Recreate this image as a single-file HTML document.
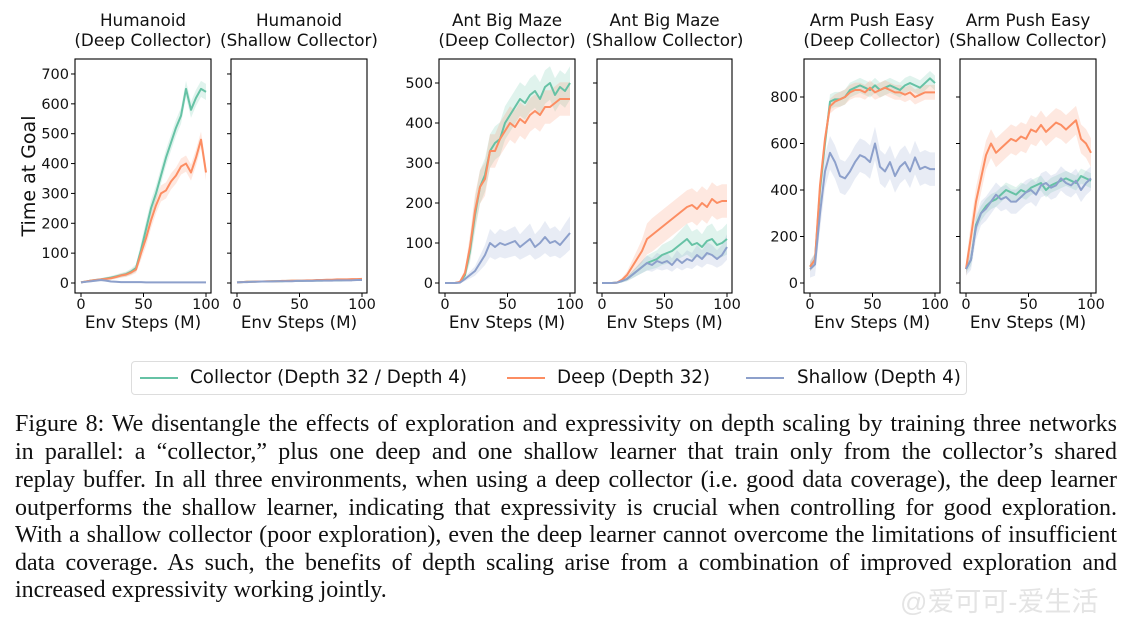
<!DOCTYPE html>
<html><head><meta charset="utf-8">
<style>
body{margin:0;background:#fff;width:1134px;height:616px;overflow:hidden;position:relative}
svg{position:absolute;left:0;top:0}
.cap{position:absolute;left:15px;width:1102px;font-family:"Liberation Serif",serif;font-size:24px;line-height:27.7px;color:#111;text-align:justify;text-align-last:justify;white-space:nowrap}
.cap.last{text-align-last:left}
.legend{position:absolute;left:131px;top:361px;width:836px;height:34px;border:1px solid #ddd;border-radius:4px;box-sizing:border-box;font-family:"DejaVu Sans",sans-serif;font-size:18.3px;color:#111}
.le{position:absolute;top:4px;line-height:24px}
.ll{position:absolute;top:15px;height:1.5px;width:38px}
.wm{position:absolute;left:900px;top:580px;font-family:"Liberation Sans","Noto Sans CJK SC",sans-serif;font-size:27px;color:#e4e4e4}
</style></head><body>
<svg id="chart" width="1134" height="350" viewBox="0 0 1134 350"></svg>
<div class="legend">
 <div class="ll" style="left:8px;background:#66c2a5"></div>
 <div class="le" style="left:58px">Collector (Depth 32 / Depth 4)</div>
 <div class="ll" style="left:375px;background:#fc8d62"></div>
 <div class="le" style="left:425px">Deep (Depth 32)</div>
 <div class="ll" style="left:614px;background:#8da0cb"></div>
 <div class="le" style="left:665px">Shallow (Depth 4)</div>
</div>
<div>
<div class="cap" style="top:411px">Figure 8: We disentangle the effects of exploration and expressivity on depth scaling by training three networks</div>
<div class="cap" style="top:439px">in parallel: a “collector,” plus one deep and one shallow learner that train only from the collector’s shared</div>
<div class="cap" style="top:467px">replay buffer. In all three environments, when using a deep collector (i.e. good data coverage), the deep learner</div>
<div class="cap" style="top:495px">outperforms the shallow learner, indicating that expressivity is crucial when controlling for good exploration.</div>
<div class="cap" style="top:522px">With a shallow collector (poor exploration), even the deep learner cannot overcome the limitations of insufficient</div>
<div class="cap" style="top:550px">data coverage. As such, the benefits of depth scaling arise from a combination of improved exploration and</div>
<div class="cap last" style="top:577px">increased expressivity working jointly.</div>
</div>
<div class="wm">@爱可可-爱生活</div>
<script>
const steps=[0,4,8,12,16,20,24,28,32,36,40,44,48,52,56,60,64,68,72,76,80,84,88,92,96,100];
const xTicks=[0,50,100];
const titles1=["Humanoid","Humanoid","Ant Big Maze","Ant Big Maze","Arm Push Easy","Arm Push Easy"];
const titles2=["(Deep Collector)","(Shallow Collector)","(Deep Collector)","(Shallow Collector)","(Deep Collector)","(Shallow Collector)"];
const yTicksHum=[0,100,200,300,400,500,600,700];
const yTicksAnt=[0,100,200,300,400,500];
const yTicksArm=[0,200,400,600,800];
// Humanoid deep collector
const humDeepCollector=[2,5,8,10,12,15,18,22,26,30,38,50,110,180,250,300,360,420,470,520,560,650,580,620,650,640];
const humDeepDeep=[2,5,8,10,12,14,16,20,25,28,35,45,100,150,210,260,300,310,340,360,390,400,370,420,480,370];
const humDeepShallow=[2,4,6,8,10,8,5,4,3,3,3,3,3,2,2,2,2,2,2,2,2,2,2,2,2,2];
// Humanoid shallow collector
const humShCollector=[2,3,4,4,5,5,5,6,6,6,7,7,7,7,8,8,8,8,9,9,9,9,10,10,10,10];
const humShDeep=[2,3,4,4,5,5,6,6,6,7,7,8,8,8,9,9,10,10,11,11,12,12,12,13,13,14];
const humShShallow=[2,3,3,4,4,5,5,5,6,6,6,6,7,7,7,7,8,8,8,8,9,9,9,9,10,10];
// Ant deep collector
const antDeepCollector=[0,0,0,2,20,80,170,240,270,330,350,360,400,420,440,460,450,470,480,460,490,500,470,490,480,500];
const antDeepDeep=[0,0,0,3,25,90,180,240,260,330,330,360,380,400,390,410,400,420,430,420,440,440,450,460,460,460];
const antDeepShallow=[0,0,0,1,10,20,30,50,70,100,90,100,95,100,105,90,100,110,90,100,115,100,105,95,110,125];
// Ant shallow collector
const antShCollector=[0,0,0,1,5,10,20,30,40,50,55,60,70,75,80,90,100,110,95,100,90,105,110,95,100,110];
const antShDeep=[0,0,0,1,8,20,40,60,80,110,120,130,140,150,160,170,180,190,195,185,200,190,210,200,205,205];
const antShShallow=[0,0,0,1,5,10,20,30,40,50,45,55,50,55,45,60,50,60,55,70,60,75,70,60,70,90];
// Arm deep collector
const armDeepCollector=[70,100,400,600,780,790,790,800,830,840,850,840,830,850,830,840,850,840,830,850,860,850,840,860,880,860];
const armDeepDeep=[70,100,420,620,760,780,790,800,820,830,830,820,840,820,830,840,830,820,820,810,820,800,810,820,820,820];
const armDeepShallow=[60,80,300,480,560,520,460,450,480,520,550,540,520,600,500,480,520,460,500,520,480,540,490,500,490,490];
// Arm shallow collector
const armShCollector=[60,100,250,300,330,350,360,380,400,390,380,400,390,410,420,430,400,420,430,440,450,440,430,460,450,440];
const armShDeep=[60,200,350,450,550,600,560,580,600,620,610,630,620,660,650,680,650,670,690,680,660,680,700,620,600,560];
const armShShallow=[60,100,240,300,320,350,380,360,370,350,350,370,390,400,380,420,430,410,420,450,430,420,440,400,430,450];
const bandHum=[25,25,25];
const bandAnt=[40,40,40];
const bandArm=[30,30,70];

const C=["#66c2a5","#fc8d62","#8da0cb"];
const NS="http://www.w3.org/2000/svg";
const svg=document.getElementById('chart');
function mk(tag,attrs,parent){const e=document.createElementNS(NS,tag);for(const k in attrs)e.setAttribute(k,attrs[k]);(parent||svg).appendChild(e);return e;}
const panels=[
 {bl:75,br:211,x0:81,x1:206,ppu:0.2986,ticks:yTicksHum,labels:true,series:[humDeepCollector,humDeepDeep,humDeepShallow],band:bandHum},
 {bl:231,br:367,x0:237,x1:362,ppu:0.2986,ticks:yTicksHum,labels:false,series:[humShCollector,humShDeep,humShShallow],band:[4,4,4]},
 {bl:439,br:575,x0:445,x1:570,ppu:0.4,ticks:yTicksAnt,labels:true,series:[antDeepCollector,antDeepDeep,antDeepShallow],band:bandAnt},
 {bl:597,br:732,x0:602,x1:727,ppu:0.4,ticks:yTicksAnt,labels:false,series:[antShCollector,antShDeep,antShShallow],band:bandAnt},
 {bl:804,br:940,x0:810,x1:935,ppu:0.2325,ticks:yTicksArm,labels:true,series:[armDeepCollector,armDeepDeep,armDeepShallow],band:bandArm},
 {bl:960,br:1096,x0:966,x1:1091,ppu:0.2325,ticks:yTicksArm,labels:false,series:[armShCollector,armShDeep,armShShallow],band:[30,60,50]}
];
const names=["collector","deep","shallow"];
const BT=59,BB=293,Y0=283;
panels.forEach((p,i)=>{
 const g=mk('g',{});
 
 
 const px=x=>p.x0+x/100*(p.x1-p.x0);
 const py=v=>Y0-v*p.ppu;
 const cx=(p.bl+p.br)/2;
 const t1=mk('text',{x:cx,y:26,'text-anchor':'middle','font-family':'DejaVu Sans, sans-serif','font-size':16.8,fill:'#111'},g);t1.textContent=titles1[i];
 
 
 const t2=mk('text',{x:cx,y:46,'text-anchor':'middle','font-family':'DejaVu Sans, sans-serif','font-size':16.8,fill:'#111'},g);t2.textContent=titles2[i];
 
 
 p.series.forEach((s,k)=>{
  const bw=j=>2+p.band[k]*Math.min(1,Math.abs(s[j])/120);
  let d='';steps.forEach((x,j)=>{d+=(j?'L':'M')+px(x)+','+py(s[j]+bw(j));});
  for(let j=steps.length-1;j>=0;j--)d+='L'+px(steps[j])+','+py(s[j]-bw(j));
  const e=mk('path',{d:d+'Z',fill:C[k],'fill-opacity':0.2,stroke:'none'},g);
  
  
 });
 p.series.forEach((s,k)=>{
  const pts=steps.map((x,j)=>px(x)+','+py(s[j])).join(' ');
  const e=mk('polyline',{points:pts,fill:'none',stroke:C[k],'stroke-width':2,'stroke-linejoin':'round'},g);
  
  
 });
 const box=mk('rect',{x:p.bl,y:BT,width:p.br-p.bl,height:BB-BT,fill:'none',stroke:'#000','stroke-width':1.1},g);
 
 
 xTicks.forEach(v=>{
  mk('line',{x1:px(v),x2:px(v),y1:BB,y2:BB+4,stroke:'#000'},g);
  const t=mk('text',{x:px(v),y:309,'text-anchor':'middle','font-family':'DejaVu Sans, sans-serif','font-size':14.5,fill:'#111'},g);t.textContent=v;
  
  
 });
 p.ticks.forEach(v=>{
  mk('line',{x1:p.bl-4,x2:p.bl,y1:py(v),y2:py(v),stroke:'#000'},g);
  if(p.labels){
   const t=mk('text',{x:p.bl-6,y:py(v)+5,'text-anchor':'end','font-family':'DejaVu Sans, sans-serif','font-size':14.5,fill:'#111'},g);t.textContent=v;
   
   
  }
 });
 const xl=mk('text',{x:cx,y:328,'text-anchor':'middle','font-family':'DejaVu Sans, sans-serif','font-size':16.8,fill:'#111'},g);xl.textContent='Env Steps (M)';
 
 
});
const yl=mk('text',{x:0,y:0,transform:'translate(35,176) rotate(-90)','text-anchor':'middle','font-family':'DejaVu Sans, sans-serif','font-size':19,fill:'#111'});
yl.textContent='Time at Goal';


</script>
</body></html>
